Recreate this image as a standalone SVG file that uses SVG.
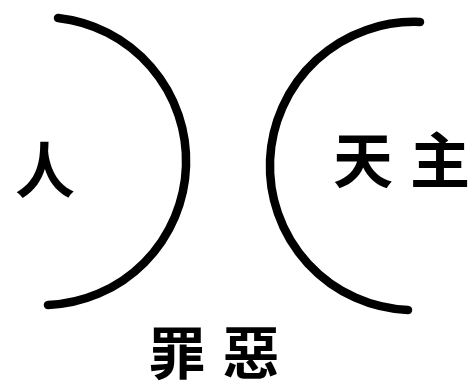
<svg xmlns="http://www.w3.org/2000/svg" width="473" height="389" viewBox="0 0 473 389">
<style>
.arc{fill:none;stroke:#000;stroke-width:8.5;stroke-linecap:round}
.t{font-family:"Noto Sans CJK TC","Noto Sans CJK SC",sans-serif;font-size:60px;font-weight:bold;fill:#000;text-anchor:middle}
.b{font-size:57px}
</style>
<rect width="473" height="389" fill="#fff"/>
<g id="connectors">
<path id="arc-left" class="arc" d="M 58 18 A 144 144 0 0 1 48 305"/>
<path id="arc-right" class="arc" d="M 420 22 A 144 144 0 0 0 408 310"/>
</g>
<g id="node-ren"><text class="t" x="45" y="193">人</text></g>
<g id="node-tianzhu"><text class="t" x="363" y="183">天</text><text class="t" x="440" y="183">主</text></g>
<g id="node-zuie"><text class="t b" x="177" y="374">罪</text><text class="t b" x="251" y="374">惡</text></g>
</svg>
